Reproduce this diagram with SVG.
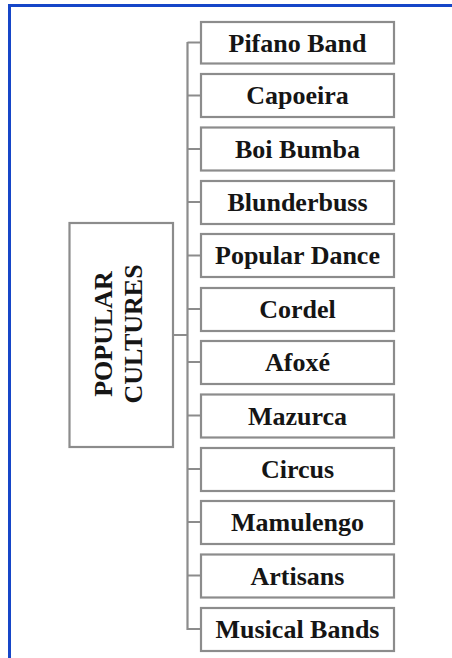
<svg xmlns="http://www.w3.org/2000/svg" width="452" height="658" viewBox="0 0 452 658">
<style>
.box{fill:#fff;stroke:#8c8c8c;stroke-width:2.2}
.t{font-family:"Liberation Serif","Times New Roman",serif;font-weight:bold;font-size:26px;fill:#151515;text-anchor:middle}
.c{fill:none;stroke:#8c8c8c;stroke-width:2.2}
</style>
<rect width="452" height="658" fill="#fff"/>
<path d="M9.5 658 V5.5 H452" fill="none" stroke="#1646c8" stroke-width="3"/>
<g id="connectors">
<path class="c" d="M173 335 H187.5 M187.5 42 V630"/>
<path class="c" d="M187.5 42.5 H201 M187.5 95.5 H201 M187.5 149 H201 M187.5 202 H201 M187.5 255.5 H201 M187.5 309 H201 M187.5 362 H201 M187.5 415.5 H201 M187.5 469 H201 M187.5 522 H201 M187.5 575.5 H201 M187.5 629 H201"/>
</g>
<g id="root">
<rect class="box" x="69.5" y="223" width="103.5" height="224"/>
<text class="t" font-size="27" transform="translate(112,334) rotate(-90)">POPULAR</text>
<text class="t" font-size="27" transform="translate(142,334) rotate(-90)">CULTURES</text>
</g>
<g id="n1"><rect class="box" x="201" y="22" width="193" height="41.5"/><text class="t" x="297.5" y="51.5">Pifano Band</text></g>
<g id="n2"><rect class="box" x="201" y="74" width="193" height="43"/><text class="t" x="297.5" y="104">Capoeira</text></g>
<g id="n3"><rect class="box" x="201" y="127.5" width="193" height="43"/><text class="t" x="297.5" y="157.5">Boi Bumba</text></g>
<g id="n4"><rect class="box" x="201" y="181" width="193" height="43"/><text class="t" x="297.5" y="211">Blunderbuss</text></g>
<g id="n5"><rect class="box" x="201" y="234" width="193" height="43"/><text class="t" x="297.5" y="264">Popular Dance</text></g>
<g id="n6"><rect class="box" x="201" y="288" width="193" height="43"/><text class="t" x="297.5" y="318">Cordel</text></g>
<g id="n7"><rect class="box" x="201" y="341" width="193" height="43"/><text class="t" x="297.5" y="371">Afoxé</text></g>
<g id="n8"><rect class="box" x="201" y="394.5" width="193" height="43"/><text class="t" x="297.5" y="424.5">Mazurca</text></g>
<g id="n9"><rect class="box" x="201" y="448" width="193" height="43"/><text class="t" x="297.5" y="478">Circus</text></g>
<g id="n10"><rect class="box" x="201" y="501" width="193" height="43"/><text class="t" x="297.5" y="531">Mamulengo</text></g>
<g id="n11"><rect class="box" x="201" y="554.5" width="193" height="43"/><text class="t" x="297.5" y="584.5">Artisans</text></g>
<g id="n12"><rect class="box" x="201" y="608" width="193" height="43"/><text class="t" x="297.5" y="638">Musical Bands</text></g>
</svg>
